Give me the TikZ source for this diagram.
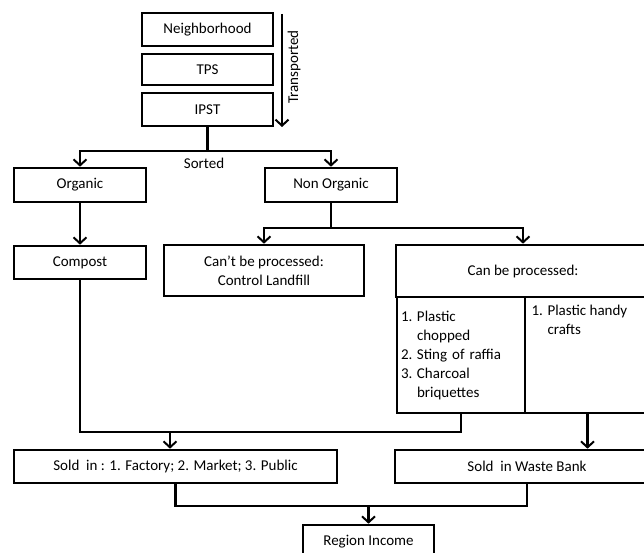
\documentclass[tikz,border=0pt]{standalone}
\usepackage{fontspec}
\setmainfont{Carlito}
\usetikzlibrary{arrows.meta}

\newcommand{\numit}[2]{\makebox[16pt][l]{#1}#2}
\newcommand{\contit}[1]{\hspace*{16pt}#1}

\begin{document}
\begin{tikzpicture}[x=1pt, y=1pt,
    box/.style={draw, line width=2.6pt, minimum width=131pt, minimum height=33pt,
        inner sep=2pt, font=\fontsize{15}{19}\selectfont},
    lbl/.style={font=\fontsize{15}{19}\selectfont},
    arr/.style={-{Straight Barb[length=6pt,width=13pt,line width=2pt]}},
    line width=2.2pt]
    \clip (0,0) rectangle (644,-553);

    % top chain
    \node[box] (neighborhood) at (207.5,-29.5) {Neighborhood};
    \node[box, minimum height=31pt] (tps) at (207.5,-69.5) {TPS};
    \node[box] (ipst) at (207.5,-109.5) {IPST};
    \coordinate (tstart) at (282,-14);
    \coordinate (tend) at (282,-127);
    \node[lbl, rotate=90] (transported) at (294,-67) {Transported};
    \draw[arr] (tstart) -- (tend);

    % sorting
    \node[lbl] (sorted) at (204,-163) {Sorted};
    \node[box, minimum width=132pt, minimum height=34pt] (organic) at (80,-185) {Organic};
    \node[box, minimum width=132pt, minimum height=34pt] (nonorganic) at (331,-185) {Non Organic};
    \draw[arr] (ipst.south) -- ++(0,-24) -| (organic.north);
    \draw[arr] (ipst.south) -- ++(0,-24) -| (nonorganic.north);

    \node[box, minimum width=132pt] (compost) at (80,-262.5) {Compost};
    \node[box, minimum width=200pt, minimum height=51pt, align=center] (cantproc) at (264,-270.5)
        {Can’t be processed:\\Control Landfill};
    \node[box, minimum width=254pt, minimum height=52pt] (canproc) at (523,-271) {Can be processed:};
    \draw[arr] (organic) -- (compost);
    \draw[arr] (nonorganic.south) -- ++(0,-25) -| (cantproc.north);
    \draw[arr] (nonorganic.south) -- ++(0,-25) -| (canproc.north);

    % processed products
    \node[box, minimum width=128pt, minimum height=116pt, text width=120pt, align=left] (canleft) at (461,-355)
        {\numit{1.}{Plastic}\\ \contit{chopped}\\ \numit{2.}{Sting of raffia}\\
         \numit{3.}{Charcoal}\\ \contit{briquettes}};
    \node[box, minimum width=125pt, minimum height=116pt] (canright) at (587.5,-355)
        {\parbox[c][100pt][t]{112pt}{\raggedright\numit{1.}{Plastic handy}\\ \contit{crafts}}};

    % selling
    \node[box, minimum width=323pt] (soldin) at (175.5,-466.5) {Sold\ \ in : 1. Factory; 2. Market; 3. Public};
    \node[box, minimum width=264pt] (soldbank) at (527,-466.5) {Sold\ \ in Waste Bank};
    \node[box] (income) at (368.5,-541.5) {Region Income};

    \coordinate (mergeL) at (170,-432);
    \coordinate (mergeB) at (368.5,-506);
    \draw (compost.south) |- (mergeL) -| (canleft.south);
    \draw[arr] (mergeL) -- (mergeL |- soldin.north);
    \draw[arr] (canright.south) -- (canright.south |- soldbank.north);
    \draw (soldin.south) |- (mergeB) -| (soldbank.south);
    \draw[arr] (mergeB) -- (income.north);
\end{tikzpicture}
\end{document}
